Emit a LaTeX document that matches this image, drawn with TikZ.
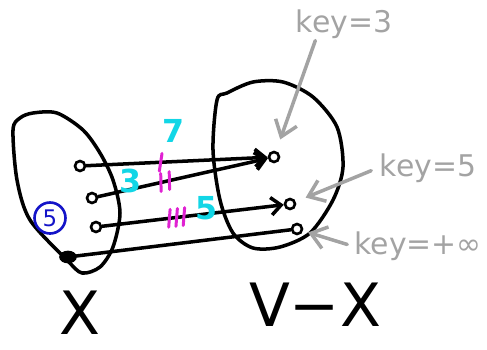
\documentclass[tikz,border=0pt]{standalone}
\usepackage{fontspec}
\setsansfont{DejaVu Sans}
\usetikzlibrary{arrows.meta,decorations.markings,shapes.geometric}
\definecolor{inkgray}{HTML}{A3A3A3}
\definecolor{inkcyan}{HTML}{12D6E6}
\definecolor{inkpink}{HTML}{E022D2}
\definecolor{inkblue}{HTML}{1414C8}

\begin{document}
\begin{tikzpicture}[
  x=0.02cm,y=-0.02cm,
  ink/.style={line width=2pt,line cap=round,line join=round},
  vert/.style={circle,draw,line width=1.5pt,minimum size=2mm,inner sep=0pt},
  edge/.style={ink,-{Straight Barb[length=2mm,width=3.5mm]}},
  hatch/.style={postaction={decorate,decoration={markings,
      mark=at position #1 with {\draw[-,inkpink,line width=1.7pt,line cap=round] (-1pt,-5pt) -- (1pt,5pt);}}}},
  weight/.style={text=inkcyan,font=\sffamily\bfseries\fontsize{18}{18}\selectfont},
  note/.style={text=inkgray,font=\sffamily\fontsize{17}{18}\selectfont,inner sep=1pt},
  pointer/.style={inkgray,line width=2pt,line cap=round,-{Straight Barb[length=3mm,width=4.5mm]}},
  setname/.style={font=\sffamily\fontsize{34}{34}\selectfont,inner sep=0pt}
]
  \useasboundingbox (0,0) rectangle (487,349);
  % the two sets
  \draw[ink] plot[smooth cycle] coordinates {(20,118) (33,113) (57,113) (83,130) (100,153) (113,180)
    (120,213) (113,247) (100,267) (82,273) (67,260) (30,220) (17,180) (13,130)};
  \draw[ink] plot[smooth cycle] coordinates {(217,100) (227,93) (253,82) (283,82) (313,97) (337,127)
    (343,167) (333,200) (310,233) (280,247) (253,248) (233,233) (220,200) (213,150)};
  % vertices
  \node[vert] (a1) at (80,166) {};
  \node[vert] (a2) at (92,198) {};
  \node[vert] (a3) at (96,227) {};
  \node[vert,ellipse,fill,minimum width=3mm,minimum height=2mm] (a4) at (68,257) {};
  \node[vert] (b1) at (274,157) {};
  \node[vert] (b3) at (290,204) {};
  \node[vert] (b4) at (297,229) {};
  \node[draw=inkblue,text=inkblue,circle,line width=1.5pt,minimum size=6.2mm,inner sep=0pt,
        font=\sffamily\fontsize{13}{13}\selectfont] (src) at (50,218) {5};
  % crossing edges
  \draw[edge,hatch=0.41] (a1) -- (b1);
  \draw[edge,hatch=0.37,hatch=0.42] (a2) -- (b1);
  \draw[edge,hatch=0.37,hatch=0.41,hatch=0.45] (a3) -- (b3);
  \draw[ink] (a4) -- (b4);
  \node[weight] (w7) at (174,131) {7};
  \node[weight] (w3) at (131,181) {3};
  \node[weight] (w5) at (207,208) {5};
  % keys
  \node[note] (k3) at (344,24) {key=3};
  \node[note] (k5) at (428,168) {key=5};
  \node[note] (kinf) at (418,246) {key=+∞};
  \draw[pointer,shorten >=7pt] (k3.210) -- (b1);
  \draw[pointer,shorten <=4pt,shorten >=6pt] (k5.west) -- (b3);
  \draw[pointer,shorten <=3pt,shorten >=3pt] (kinf.west) -- (b4);
  % labels
  \node[setname] (lx) at (80,313) {X};
  \node[setname] (lvx) at (315,305) {V−X};
\end{tikzpicture}
\end{document}
